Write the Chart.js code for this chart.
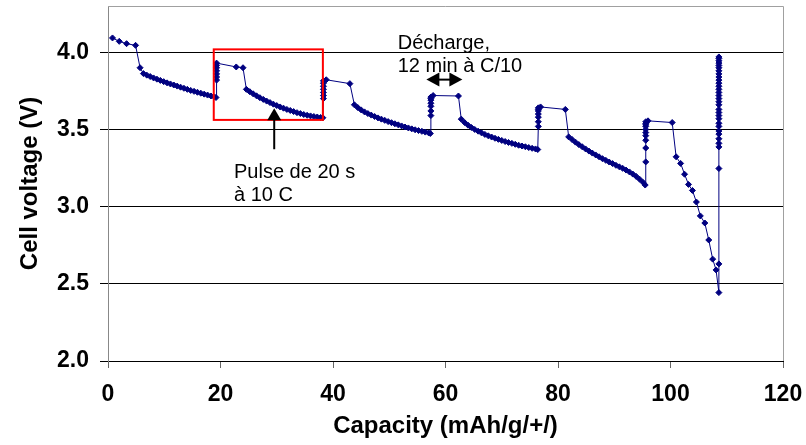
<!DOCTYPE html>
<html>
<head>
<meta charset="utf-8">
<script src="https://cdn.jsdelivr.net/npm/chart.js@4.4.1/dist/chart.umd.min.js"></script>
<style>
  html, body { margin: 0; padding: 0; background: #fff; }
  #wrap { width: 806px; height: 445px; }
</style>
</head>
<body>
<div id="wrap"><canvas id="cellChart" width="806" height="445"></canvas></div>
<script>
// capacity (mAh/g/+/) and cell voltage (V)
const capacity = [
  0.8, 2.0, 3.3, 4.9, 5.7,
  6.3, 6.9, 7.5, 8.1, 8.7, 9.3, 9.9, 10.5, 11.1, 11.7, 12.3, 12.9, 13.5, 14.1, 14.7, 15.3, 15.9, 16.5, 17.1, 17.7, 18.3, 18.9, 19.2,
  19.3, 19.3, 19.3, 19.3, 19.3, 19.3, 19.3, 22.8, 24.0,
  24.6, 25.2, 25.8, 26.4, 27.0, 27.6, 28.2, 28.8, 29.4, 30.0, 30.6, 31.2, 31.8, 32.4, 33.0, 33.6, 34.2, 34.8, 35.4, 36.0, 36.6, 37.2, 37.8, 38.2,
  38.3, 38.3, 38.3, 38.3, 38.3, 38.3, 38.3, 38.8, 43.0,
  43.8, 44.4, 45.0, 45.6, 46.2, 46.8, 47.4, 48.0, 48.6, 49.2, 49.8, 50.4, 51.0, 51.6, 52.2, 52.8, 53.4, 54.0, 54.6, 55.2, 55.8, 56.4, 57.0, 57.3,
  57.4, 57.4, 57.4, 57.4, 57.4, 57.4, 57.4, 57.8, 62.3,
  62.8, 63.4, 64.0, 64.6, 65.2, 65.8, 66.4, 67.0, 67.6, 68.2, 68.8, 69.4, 70.0, 70.6, 71.2, 71.8, 72.4, 73.0, 73.6, 74.2, 74.8, 75.4, 76.0, 76.4,
  76.5, 76.5, 76.5, 76.5, 76.5, 76.5, 76.5, 76.9, 81.3,
  81.9, 82.5, 83.1, 83.7, 84.3, 84.9, 85.5, 86.1, 86.7, 87.3, 87.9, 88.5, 89.1, 89.7, 90.3, 90.9, 91.5, 92.1, 92.7, 93.3, 93.9, 94.5, 95.1, 95.5,
  95.6, 95.6, 95.6, 95.6, 95.6, 95.6, 95.6, 95.6, 95.6, 95.6, 96.0, 100.3,
  101.0, 101.8, 102.5, 103.2, 103.9, 104.6, 105.3, 106.1, 106.8, 107.5, 108.1, 108.6, 108.6, 108.6,
  108.6, 108.6, 108.6, 108.6, 108.6, 108.6, 108.6, 108.6, 108.6, 108.6, 108.6, 108.6, 108.6, 108.6, 108.6,
  108.6, 108.6, 108.6, 108.6, 108.6, 108.6, 108.6, 108.6, 108.6, 108.6, 108.6, 108.6, 108.6, 108.6
];
const voltage = [
  4.093, 4.071, 4.056, 4.045, 3.900,
  3.862, 3.852, 3.843, 3.834, 3.826, 3.818, 3.810, 3.802, 3.795, 3.788, 3.781, 3.774, 3.767, 3.760, 3.753, 3.747, 3.741, 3.735, 3.729, 3.723, 3.717, 3.711, 3.707,
  3.82, 3.84, 3.86, 3.88, 3.90, 3.915, 3.93, 3.905, 3.900,
  3.760, 3.745, 3.731, 3.718, 3.706, 3.695, 3.684, 3.674, 3.664, 3.655, 3.646, 3.638, 3.630, 3.623, 3.616, 3.609, 3.603, 3.597, 3.592, 3.588, 3.584, 3.581, 3.578, 3.576,
  3.70, 3.72, 3.74, 3.76, 3.78, 3.80, 3.815, 3.822, 3.797,
  3.660, 3.642, 3.627, 3.614, 3.603, 3.593, 3.584, 3.575, 3.567, 3.559, 3.551, 3.544, 3.537, 3.530, 3.523, 3.516, 3.510, 3.504, 3.498, 3.493, 3.488, 3.483, 3.478, 3.474,
  3.59, 3.62, 3.65, 3.67, 3.69, 3.70, 3.71, 3.720, 3.717,
  3.567, 3.545, 3.528, 3.513, 3.500, 3.489, 3.478, 3.468, 3.459, 3.451, 3.443, 3.436, 3.429, 3.422, 3.416, 3.410, 3.404, 3.398, 3.393, 3.388, 3.383, 3.378, 3.374, 3.370,
  3.52, 3.55, 3.58, 3.60, 3.62, 3.63, 3.64, 3.646, 3.630,
  3.452, 3.435, 3.418, 3.402, 3.388, 3.374, 3.360, 3.347, 3.335, 3.323, 3.311, 3.300, 3.289, 3.279, 3.268, 3.258, 3.248, 3.237, 3.225, 3.211, 3.196, 3.178, 3.158, 3.140,
  3.29, 3.38, 3.43, 3.46, 3.48, 3.50, 3.52, 3.53, 3.54, 3.55, 3.556, 3.545,
  3.323, 3.280, 3.210, 3.144, 3.105, 3.030, 2.940, 2.894, 2.784, 2.660, 2.590, 2.443, 2.629, 3.247,
  3.387, 3.41, 3.44, 3.47, 3.49, 3.52, 3.54, 3.57, 3.59, 3.61, 3.63, 3.66, 3.68, 3.70, 3.72,
  3.74, 3.76, 3.78, 3.80, 3.82, 3.84, 3.86, 3.88, 3.90, 3.915, 3.93, 3.945, 3.96, 3.97
];

const xTicks = [0, 20, 40, 60, 80, 100, 120];
const yTicks = [2.0, 2.5, 3.0, 3.5, 4.0];

const xTitle = "Capacity (mAh/g/+/)";
const yTitle = "Cell voltage (V)";

// annotations, in data units
const pulseBox = { x0: 18.8, x1: 38.2, y0: 3.562, y1: 4.019 };
const pulseArrow = { x: 29.55, yTip: 3.638, yTail: 3.372 };
const pulseText = { x: 22.4, y: 3.188, lines: ["Pulse de 20 s", "à 10 C"] };
const restArrow = { x0: 56.6, x1: 63.0, y: 3.823 };
const restText = { x: 51.5, y: 4.022, lines: ["Décharge,", "12 min à C/10"] };

const FONT = "'Liberation Sans', Arial, Helvetica, sans-serif";

const points = capacity.map((c, i) => ({ x: c, y: voltage[i] }));

const frame = {
  id: "frame",
  beforeDatasetsDraw(chart) {
    const { ctx, chartArea: a } = chart;
    ctx.save();
    ctx.strokeStyle = "#a0a0a0";
    ctx.lineWidth = 1;
    ctx.beginPath();
    ctx.moveTo(a.left, a.top + 0.5);
    ctx.lineTo(a.right + 0.5, a.top + 0.5);
    ctx.lineTo(a.right + 0.5, a.bottom);
    ctx.stroke();
    ctx.restore();
  },
};

const notes = {
  id: "notes",
  afterDatasetsDraw(chart) {
    const { ctx } = chart;
    const sx = chart.scales.x, sy = chart.scales.y;
    const px = (v) => sx.getPixelForValue(v);
    const py = (v) => sy.getPixelForValue(v);
    ctx.save();

    // red box around one pulse
    ctx.strokeStyle = "#ff0000";
    ctx.lineWidth = 2;
    ctx.strokeRect(px(pulseBox.x0), py(pulseBox.y1), px(pulseBox.x1) - px(pulseBox.x0), py(pulseBox.y0) - py(pulseBox.y1));

    // upward arrow
    ctx.strokeStyle = "#000";
    ctx.fillStyle = "#000";
    ctx.lineWidth = 2;
    const ax = px(pulseArrow.x), tip = py(pulseArrow.yTip), tail = py(pulseArrow.yTail);
    ctx.beginPath();
    ctx.moveTo(ax, tail);
    ctx.lineTo(ax, tip + 10);
    ctx.stroke();
    ctx.beginPath();
    ctx.moveTo(ax, tip);
    ctx.lineTo(ax - 7, tip + 12);
    ctx.lineTo(ax + 7, tip + 12);
    ctx.closePath();
    ctx.fill();

    // double arrow
    const l = px(restArrow.x0), r = px(restArrow.x1), ay = py(restArrow.y);
    ctx.beginPath();
    ctx.moveTo(l + 8, ay);
    ctx.lineTo(r - 8, ay);
    ctx.stroke();
    ctx.beginPath();
    ctx.moveTo(l, ay);
    ctx.lineTo(l + 13, ay - 7);
    ctx.lineTo(l + 13, ay + 7);
    ctx.closePath();
    ctx.fill();
    ctx.beginPath();
    ctx.moveTo(r, ay);
    ctx.lineTo(r - 13, ay - 7);
    ctx.lineTo(r - 13, ay + 7);
    ctx.closePath();
    ctx.fill();

    // labels
    ctx.font = "20px " + FONT;
    ctx.textBaseline = "alphabetic";
    ctx.textAlign = "left";
    [pulseText, restText].forEach((t) => {
      t.lines.forEach((line, i) => ctx.fillText(line, px(t.x), py(t.y) + i * 23.5));
    });
    ctx.restore();
  },
};

new Chart(document.getElementById("cellChart"), {
  type: "scatter",
  data: {
    datasets: [
      {
        data: points,
        showLine: true,
        borderColor: "#000080",
        borderWidth: 1,
        pointStyle: "rectRot",
        pointRadius: 3,
        pointBorderWidth: 1,
        pointBackgroundColor: "#000080",
        pointBorderColor: "#000080",
      },
    ],
  },
  options: {
    responsive: false,
    animation: false,
    layout: { padding: { left: 0, right: 23, top: 6, bottom: 0 } },
    plugins: {
      legend: { display: false },
      tooltip: { enabled: false },
    },
    scales: {
      x: {
        type: "linear",
        min: 0,
        max: 120,
        afterBuildTicks: (s) => { s.ticks = xTicks.map((v) => ({ value: v })); },
        afterFit: (s) => { s.height = 84; s.paddingLeft = 0; s.paddingRight = 0; },
        grid: { drawOnChartArea: false, drawTicks: true, tickLength: 7, color: "#666" },
        border: { color: "#000", width: 1 },
        ticks: {
          padding: 13,
          color: "#000",
          maxRotation: 0,
          font: { family: FONT, size: 23, weight: "bold" },
        },
        title: {
          display: true,
          text: xTitle,
          color: "#000",
          padding: { top: 0, bottom: 4 },
          font: { family: FONT, size: 24, weight: "bold" },
        },
      },
      y: {
        type: "linear",
        min: 2.0,
        max: 4.3,
        afterBuildTicks: (s) => { s.ticks = yTicks.map((v) => ({ value: v })); },
        afterFit: (s) => { s.width = 108; s.paddingTop = 0; s.paddingBottom = 0; },
        grid: { color: "#000", lineWidth: 1, drawTicks: true, tickLength: 8 },
        border: { color: "#888", width: 1 },
        ticks: {
          padding: 11,
          color: "#000",
          font: { family: FONT, size: 23, weight: "bold" },
          callback: (v) => Number(v).toFixed(1),
        },
        title: {
          display: true,
          text: yTitle,
          color: "#000",
          padding: { top: 16, bottom: 0 },
          font: { family: FONT, size: 24, weight: "bold" },
        },
      },
    },
  },
  plugins: [frame, notes],
});
</script>
</body>
</html>
